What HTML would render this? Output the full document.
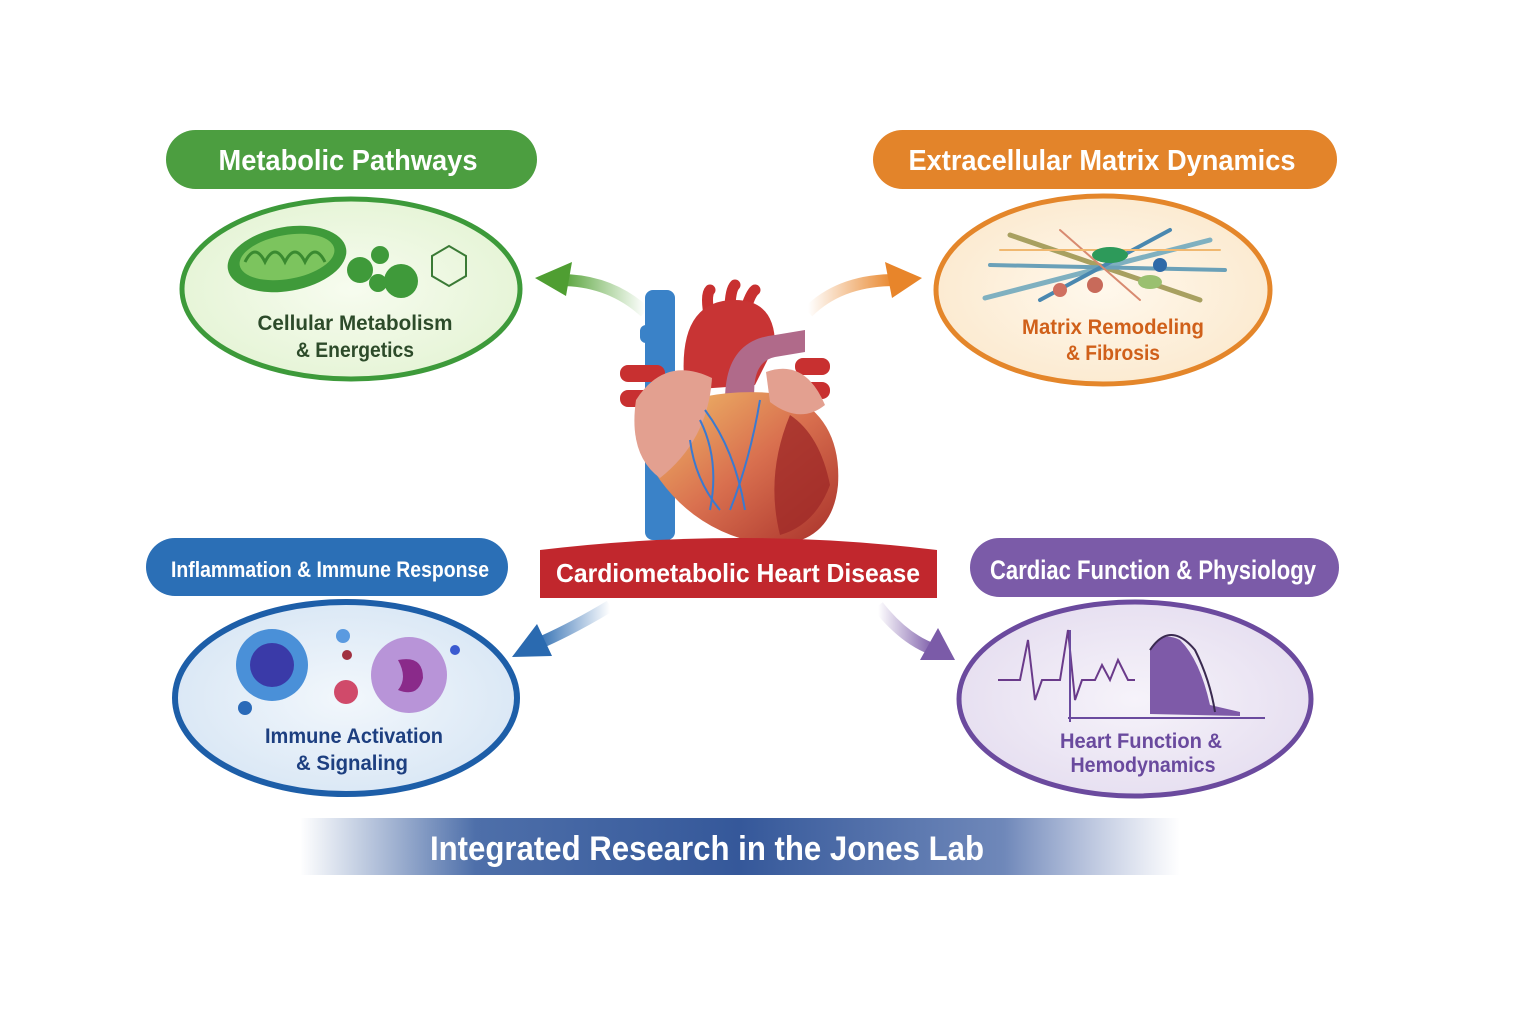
<!DOCTYPE html>
<html><head><meta charset="utf-8"><style>
html,body{margin:0;padding:0;background:#fff;}
svg{display:block;font-family:"Liberation Sans",sans-serif;}
</style></head><body>
<svg width="1536" height="1024" viewBox="0 0 1536 1024" xmlns="http://www.w3.org/2000/svg">
<defs>
<radialGradient id="gG" cx="50%" cy="50%" r="60%"><stop offset="0" stop-color="#f7fcef"/><stop offset="1" stop-color="#e3f3d3"/></radialGradient>
<radialGradient id="gO" cx="50%" cy="50%" r="60%"><stop offset="0" stop-color="#fff8ec"/><stop offset="1" stop-color="#fbe8cc"/></radialGradient>
<radialGradient id="gB" cx="50%" cy="50%" r="60%"><stop offset="0" stop-color="#f2f7fc"/><stop offset="1" stop-color="#d6e5f4"/></radialGradient>
<radialGradient id="gP" cx="50%" cy="50%" r="60%"><stop offset="0" stop-color="#f6f3fa"/><stop offset="1" stop-color="#e4dcef"/></radialGradient>
<linearGradient id="bar" x1="0" x2="1"><stop offset="0" stop-color="#3a5fa0" stop-opacity="0"/><stop offset="0.2" stop-color="#3a5fa0" stop-opacity="0.9"/><stop offset="0.5" stop-color="#35589a"/><stop offset="0.8" stop-color="#4b6aa8" stop-opacity="0.8"/><stop offset="1" stop-color="#6a7fb8" stop-opacity="0"/></linearGradient>
<linearGradient id="heart" x1="0" y1="0" x2="1" y2="1"><stop offset="0" stop-color="#f1c06a"/><stop offset="0.5" stop-color="#d9704f"/><stop offset="1" stop-color="#a8302a"/></linearGradient>
<linearGradient id="aG" x1="1" x2="0"><stop offset="0" stop-color="#5aa83a" stop-opacity="0"/><stop offset="1" stop-color="#4f9e32"/></linearGradient>
<linearGradient id="aO" x1="0" x2="1"><stop offset="0" stop-color="#e8852a" stop-opacity="0"/><stop offset="1" stop-color="#e8852a"/></linearGradient>
<linearGradient id="aB" x1="1" x2="0"><stop offset="0" stop-color="#2a6ab0" stop-opacity="0"/><stop offset="1" stop-color="#2a6ab0"/></linearGradient>
<linearGradient id="aP" x1="0" x2="1"><stop offset="0" stop-color="#7b5ba8" stop-opacity="0"/><stop offset="1" stop-color="#7b5ba8"/></linearGradient>
</defs>

<rect x="166" y="130" width="371" height="59" rx="29.5" fill="#4c9e40"/>
<text x="348" y="170" font-size="29" font-weight="bold" fill="#fff" text-anchor="middle" textLength="259" lengthAdjust="spacingAndGlyphs">Metabolic Pathways</text>
<rect x="873" y="130" width="464" height="59" rx="29.5" fill="#e3842a"/>
<text x="1102" y="170" font-size="29" font-weight="bold" fill="#fff" text-anchor="middle" textLength="387" lengthAdjust="spacingAndGlyphs">Extracellular Matrix Dynamics</text>
<rect x="146" y="538" width="362" height="58" rx="29" fill="#2b6fb6"/>
<text x="330" y="577" font-size="22" font-weight="bold" fill="#fff" text-anchor="middle" textLength="318" lengthAdjust="spacingAndGlyphs">Inflammation &amp; Immune Response</text>
<rect x="970" y="538" width="369" height="59" rx="29.5" fill="#7b5ba8"/>
<text x="1153" y="579" font-size="27" font-weight="bold" fill="#fff" text-anchor="middle" textLength="326" lengthAdjust="spacingAndGlyphs">Cardiac Function &amp; Physiology</text>

<ellipse cx="351" cy="289" rx="169" ry="90" fill="url(#gG)" stroke="#3d9a3a" stroke-width="5"/>
<ellipse cx="1103" cy="290" rx="167" ry="94" fill="url(#gO)" stroke="#e4862a" stroke-width="5"/>
<ellipse cx="346" cy="698" rx="171" ry="96" fill="url(#gB)" stroke="#1d5ea8" stroke-width="6"/>
<ellipse cx="1135" cy="699" rx="176" ry="97" fill="url(#gP)" stroke="#6b4a9e" stroke-width="5"/>

<g>
<ellipse cx="287" cy="259" rx="60" ry="32" fill="#3f9a3a" transform="rotate(-10 287 259)"/>
<ellipse cx="287" cy="257" rx="48" ry="22" fill="#7cc45e" transform="rotate(-10 287 257)"/>
<path d="M245 262 q10 -20 20 0 q10 -20 20 0 q10 -20 20 0 q10 -20 20 0" stroke="#3a8a30" stroke-width="3" fill="none"/>
<circle cx="360" cy="270" r="13" fill="#3f9a3a"/><circle cx="380" cy="255" r="9" fill="#3f9a3a"/>
<circle cx="401" cy="281" r="17" fill="#3f9a3a"/><circle cx="378" cy="283" r="9" fill="#3f9a3a"/>
<polygon points="449,246 466,256 466,276 449,286 432,276 432,256" fill="none" stroke="#3a7a35" stroke-width="2"/>
</g>
<text x="355" y="330" font-size="21" font-weight="bold" fill="#2d4b2a" text-anchor="middle" textLength="195" lengthAdjust="spacingAndGlyphs">Cellular Metabolism</text>
<text x="355" y="357" font-size="21" font-weight="bold" fill="#2d4b2a" text-anchor="middle" textLength="118" lengthAdjust="spacingAndGlyphs">&amp; Energetics</text>

<g stroke-linecap="round">
<line x1="985" y1="298" x2="1210" y2="240" stroke="#7fb0c0" stroke-width="5"/>
<line x1="1010" y1="235" x2="1200" y2="300" stroke="#a8a060" stroke-width="5"/>
<line x1="990" y1="265" x2="1225" y2="270" stroke="#6aa0b8" stroke-width="4"/>
<line x1="1040" y1="300" x2="1170" y2="230" stroke="#4a88b0" stroke-width="4"/>
<line x1="1060" y1="230" x2="1140" y2="300" stroke="#d88a70" stroke-width="2"/>
<line x1="1000" y1="250" x2="1220" y2="250" stroke="#f0b870" stroke-width="2"/>
<ellipse cx="1110" cy="255" rx="18" ry="8" fill="#2d9a5a"/>
<circle cx="1160" cy="265" r="7" fill="#2f6aa8"/><circle cx="1060" cy="290" r="7" fill="#d07060"/>
<circle cx="1095" cy="285" r="8" fill="#c86a5a"/><ellipse cx="1150" cy="282" rx="12" ry="7" fill="#9ac070"/>
</g>
<text x="1113" y="334" font-size="21" font-weight="bold" fill="#d0601a" text-anchor="middle" textLength="182" lengthAdjust="spacingAndGlyphs">Matrix Remodeling</text>
<text x="1113" y="360" font-size="21" font-weight="bold" fill="#d0601a" text-anchor="middle" textLength="94" lengthAdjust="spacingAndGlyphs">&amp; Fibrosis</text>

<circle cx="272" cy="665" r="36" fill="#4a90d8"/>
<circle cx="272" cy="665" r="22" fill="#3a3aa8"/>
<circle cx="409" cy="675" r="38" fill="#b894d8"/>
<path d="M398 660 q25 -5 25 18 q-5 20 -25 12 q10 -12 0 -30z" fill="#8a2a8a"/>
<circle cx="346" cy="692" r="12" fill="#d04a6a"/>
<circle cx="347" cy="655" r="5" fill="#a03040"/><circle cx="343" cy="636" r="7" fill="#5a9ae0"/>
<circle cx="245" cy="708" r="7" fill="#2a6ab8"/><circle cx="455" cy="650" r="5" fill="#3a5ad0"/>
<text x="354" y="743" font-size="21" font-weight="bold" fill="#1d3f80" text-anchor="middle" textLength="178" lengthAdjust="spacingAndGlyphs">Immune Activation</text>
<text x="352" y="770" font-size="21" font-weight="bold" fill="#1d3f80" text-anchor="middle" textLength="112" lengthAdjust="spacingAndGlyphs">&amp; Signaling</text>

<path d="M998 680 L1020 680 L1028 640 L1035 700 L1042 680 L1060 680 L1068 630 L1075 700 L1082 680 L1095 680 L1102 665 L1110 680 L1118 660 L1128 680 L1135 680" fill="none" stroke="#6a3a8a" stroke-width="2"/>
<line x1="1068" y1="718" x2="1265" y2="718" stroke="#6a4a9e" stroke-width="2"/>
<line x1="1070" y1="630" x2="1070" y2="722" stroke="#6a4a9e" stroke-width="2"/>
<path d="M1150 714 L1150 650 Q1160 630 1180 640 Q1200 660 1210 705 L1240 712 L1240 716 Z" fill="#7e5aa8"/>
<path d="M1150 650 Q1170 620 1195 650 Q1210 680 1215 712" fill="none" stroke="#3a2a50" stroke-width="2"/>
<text x="1141" y="748" font-size="21" font-weight="bold" fill="#6a4a9e" text-anchor="middle" textLength="162" lengthAdjust="spacingAndGlyphs">Heart Function &amp;</text>
<text x="1143" y="772" font-size="21" font-weight="bold" fill="#6a4a9e" text-anchor="middle" textLength="145" lengthAdjust="spacingAndGlyphs">Hemodynamics</text>

<path d="M645 312 Q610 280 560 280" stroke="url(#aG)" stroke-width="12" fill="none"/>
<polygon points="535,278 572,262 566,296" fill="#4f9e32"/>
<path d="M808 312 Q840 280 895 280" stroke="url(#aO)" stroke-width="12" fill="none"/>
<polygon points="922,278 885,262 892,298" fill="#e8852a"/>
<path d="M610 606 Q570 630 535 645" stroke="url(#aB)" stroke-width="12" fill="none"/>
<polygon points="512,657 537,624 552,656" fill="#2a6ab0"/>
<path d="M878 606 Q905 640 935 650" stroke="url(#aP)" stroke-width="12" fill="none"/>
<polygon points="955,660 920,660 938,628" fill="#7b5ba8"/>

<g>
<rect x="645" y="290" width="30" height="250" rx="8" fill="#3a82c8"/>
<rect x="640" y="325" width="30" height="18" rx="6" fill="#3a82c8"/>
<path d="M710 320 q-5 -25 0 -30 M730 310 q0 -20 5 -25 M745 312 q5 -18 10 -22" stroke="#c83030" stroke-width="11" fill="none" stroke-linecap="round"/>
<path d="M685 390 q-10 -90 50 -90 q40 0 40 45 l-20 40 z" fill="#c83434"/>
<path d="M725 400 q0 -60 50 -65 l30 -5 l0 22 l-30 5 q-25 5 -20 48 z" fill="#b06a8a"/>
<rect x="620" y="365" width="45" height="17" rx="8" fill="#c83030"/><rect x="620" y="390" width="45" height="17" rx="8" fill="#c83030"/>
<rect x="795" y="358" width="35" height="17" rx="8" fill="#c83030"/><rect x="795" y="382" width="35" height="17" rx="8" fill="#c83030"/>
<path d="M660 410 Q720 385 790 395 Q842 420 838 485 Q832 545 770 545 Q700 535 660 480 Q635 445 660 410Z" fill="url(#heart)"/>
<path d="M636 400 Q665 355 712 378 Q708 440 660 478 Q628 455 636 400Z" fill="#e3a090"/>
<path d="M766 372 Q805 358 825 405 Q800 425 770 402Z" fill="#e3a090"/>
<path d="M790 415 q30 20 40 70 q-15 40 -50 50 q-15 -60 10 -120z" fill="#a02a28" opacity="0.8"/>
<path d="M700 420 q20 40 10 90 M760 400 q-10 60 -30 110 M690 440 q5 40 30 70 M705 410 q30 40 40 100" stroke="#3a7ad0" stroke-width="2" fill="none"/>
</g>

<path d="M540 550 Q738 526 937 550 L937 598 L540 598 Z" fill="#c1272d"/>
<text x="738" y="582" font-size="26" font-weight="bold" fill="#fff" text-anchor="middle" textLength="364" lengthAdjust="spacingAndGlyphs">Cardiometabolic Heart Disease</text>

<rect x="300" y="818" width="880" height="57" fill="url(#bar)"/>
<text x="707" y="860" font-size="34" font-weight="bold" fill="#fff" text-anchor="middle" textLength="554" lengthAdjust="spacingAndGlyphs">Integrated Research in the Jones Lab</text>
</svg>
</body></html>
